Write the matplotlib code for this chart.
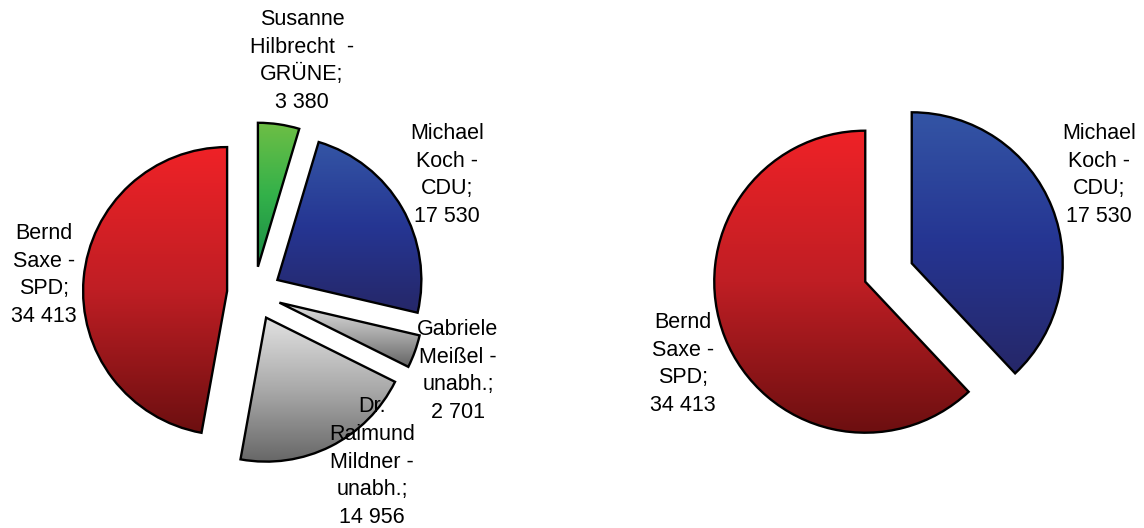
import numpy as np
import matplotlib
matplotlib.use('Agg')
import matplotlib.pyplot as plt
from matplotlib.colors import LinearSegmentedColormap

plt.rcParams['font.family'] = ['Liberation Sans', 'DejaVu Sans']

# first round (left pie)
names_1 = ['Susanne\nHilbrecht  -\nGRÜNE;\n3 380', 'Michael\nKoch -\nCDU;\n17 530',
           'Gabriele\nMeißel -\nunabh.;\n2 701', 'Dr.\nRaimund\nMildner -\nunabh.;\n14 956',
           'Bernd\nSaxe -\nSPD;\n34 413']
votes_1 = [3380, 17530, 2701, 14956, 34413]
grad_1 = ['green', 'blue', 'grey', 'grey', 'red']

# second round (right pie): labels say 17 530 / 34 413 but the wedges
# in the picture split at about 137 degrees, so sizes are read off the picture
names_2 = ['Michael\nKoch -\nCDU;\n17 530', 'Bernd\nSaxe -\nSPD;\n34 413']
share_2 = [38, 62]
grad_2 = ['blue', 'red']

# gradient stops bottom -> middle -> top
grads = {
    'red': ['#6c0f10', '#bf1e24', '#ef2227'],
    'blue': ['#262768', '#253592', '#3455a5'],
    'green': ['#1a8a45', '#33b14a', '#6dbe45'],
    'grey': ['#646464', '#a8a8a8', '#e2e2e2'],
}

fig = plt.figure(figsize=(11.44, 5.28), dpi=100)
ax = fig.add_axes([0, 0, 1, 1])


def gradient_pie(values, kinds, center, radius, explode):
    # explode is in data units here (axes are in pixels)
    wedges, _ = ax.pie(values, center=center, radius=radius, startangle=90,
                       counterclock=False, explode=[explode] * len(values),
                       wedgeprops=dict(edgecolor='black', linewidth=1.7,
                                       joinstyle='miter'))
    for w, k in zip(wedges, kinds):
        verts = w.get_patch_transform().transform(w.get_path().vertices)
        x0, y0 = verts.min(axis=0)
        x1, y1 = verts.max(axis=0)
        cmap = LinearSegmentedColormap.from_list(k, grads[k])
        g = np.linspace(0, 1, 256).reshape(-1, 1)
        im = ax.imshow(g, cmap=cmap, origin='lower', aspect='auto',
                       extent=[x0, x1, y0, y1], zorder=1, interpolation='bilinear')
        im.set_clip_path(w)
        w.set_facecolor('none')
        w.set_zorder(2)


gradient_pie(votes_1, grad_1, (254, 528 - 293.5), 144, 27)
gradient_pie(share_2, grad_2, (888.5, 528 - 272.5), 151, 25)

txt = dict(fontsize=15.5, ha='center', va='center', linespacing=1.42, zorder=5)
ax.text(302, 528 - 61, names_1[0], **txt)
ax.text(447, 528 - 175, names_1[1], **txt)
ax.text(458, 528 - 371, names_1[2], **txt)
ax.text(372, 528 - 462, names_1[3], **txt)
ax.text(44, 528 - 275, names_1[4], **txt)
ax.text(1099, 528 - 175, names_2[0], **txt)
ax.text(683, 528 - 364, names_2[1], **txt)

ax.set_xlim(0, 1144)
ax.set_ylim(0, 528)
ax.set_aspect('equal')
ax.axis('off')

fig.savefig('out.png', dpi=100, facecolor='white')
